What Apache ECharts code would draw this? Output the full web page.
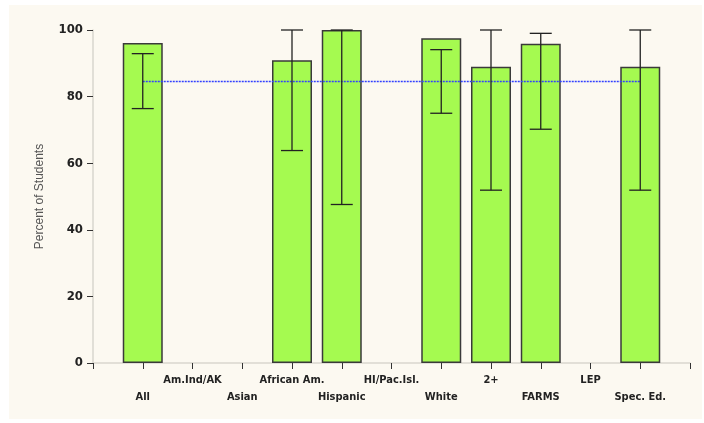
<!DOCTYPE html>
<html>
<head>
<meta charset="utf-8">
<script src="https://cdn.jsdelivr.net/npm/echarts@6/dist/echarts.min.js"></script>
<style>
html,body{margin:0;padding:0;background:#fff;}
#c{width:704px;height:423px;}
</style>
</head>
<body>
<div id="c"></div>
<script>
const categories = ['All','Am.Ind/AK','Asian','African Am.','Hispanic','HI/Pac.Isl.','White','2+','FARMS','LEP','Spec. Ed.'];
const values   = [96.1, null, null, 90.9, 100, null, 97.5, 89.0, 95.9, null, 89.0];
const errLow   = [76.4, null, null, 63.8, 47.6, null, 75.0, 51.9, 70.2, null, 51.9];
const errHigh  = [92.9, null, null, 100, 100, null, 94.1, 100, 99.0, null, 100];
const stateAvg = 84.5;
const yTicks = [0, 20, 40, 60, 80, 100];

const padded = [''].concat(categories, ['']);
const barData = [null].concat(values, [null]);
const errData = [];
categories.forEach((c, i) => {
  if (errLow[i] != null) errData.push([i + 1, errLow[i], errHigh[i]]);
});
const avgData = [null].concat(categories.map(() => stateAvg), [null]);

const chart = echarts.init(document.getElementById('c'));
chart.setOption({
  backgroundColor: '#ffffff',
  animation: false,
  graphic: [{
    type: 'rect', z: -10, silent: true,
    shape: {x: 9, y: 5, width: 693, height: 414},
    style: {fill: '#fcf9f1'}
  }],
  grid: {left: 93, right: 14, top: 30, bottom: 60, containLabel: false},
  xAxis: {
    type: 'category',
    data: padded,
    boundaryGap: false,
    axisLine: {show: true, lineStyle: {color: '#d9d6ce', width: 1.5}},
    axisTick: {show: true, interval: 0, length: 6, lineStyle: {color: '#333', width: 1}},
    axisLabel: {
      interval: 0,
      margin: 9,
      color: '#222',
      fontFamily: '"Liberation Sans Narrow","DejaVu Sans Condensed",sans-serif',
      fontWeight: 'bold',
      fontSize: 11,
      lineHeight: 17,
      formatter: (v, idx) => {
        if (!v) return '';
        return (idx % 2 === 1) ? '\n' + v : v + '\n';
      }
    },
    splitLine: {show: false}
  },
  yAxis: {
    type: 'value',
    min: yTicks[0], max: yTicks[yTicks.length - 1], interval: 20,
    name: 'Percent of Students',
    nameLocation: 'middle',
    nameGap: 47,
    nameTextStyle: {color: '#555', fontSize: 12, fontFamily: '"Liberation Sans",Arial,sans-serif'},
    axisLine: {show: true, lineStyle: {color: '#d9d6ce', width: 1.5}},
    axisTick: {show: true, length: 6, lineStyle: {color: '#333', width: 1}},
    axisLabel: {
      margin: 10,
      color: '#222',
      fontFamily: '"Liberation Sans Narrow","DejaVu Sans Condensed",sans-serif',
      fontWeight: 'bold',
      fontSize: 13
    },
    splitLine: {show: false}
  },
  series: [
    {
      type: 'bar',
      data: barData,
      barWidth: 40,
      itemStyle: {color: '#a5fa50', borderColor: '#3a3a3a', borderWidth: 1.5},
      z: 2
    },
    {
      type: 'line',
      data: avgData,
      symbol: 'none',
      lineStyle: {color: '#3340ff', width: 1.5, type: [2, 1]},
      z: 3
    },
    {
      type: 'custom',
      data: errData,
      z: 4,
      renderItem: (params, api) => {
        const x = api.value(0);
        const lo = api.coord([x, api.value(1)]);
        const hi = api.coord([x, api.value(2)]);
        const hw = 11;
        const st = {stroke: '#222', lineWidth: 1.3};
        return {
          type: 'group',
          children: [
            {type: 'line', shape: {x1: lo[0], y1: lo[1], x2: hi[0], y2: hi[1]}, style: st},
            {type: 'line', shape: {x1: lo[0] - hw, y1: lo[1], x2: lo[0] + hw, y2: lo[1]}, style: st},
            {type: 'line', shape: {x1: hi[0] - hw, y1: hi[1], x2: hi[0] + hw, y2: hi[1]}, style: st}
          ]
        };
      }
    }
  ]
});
</script>
</body>
</html>
